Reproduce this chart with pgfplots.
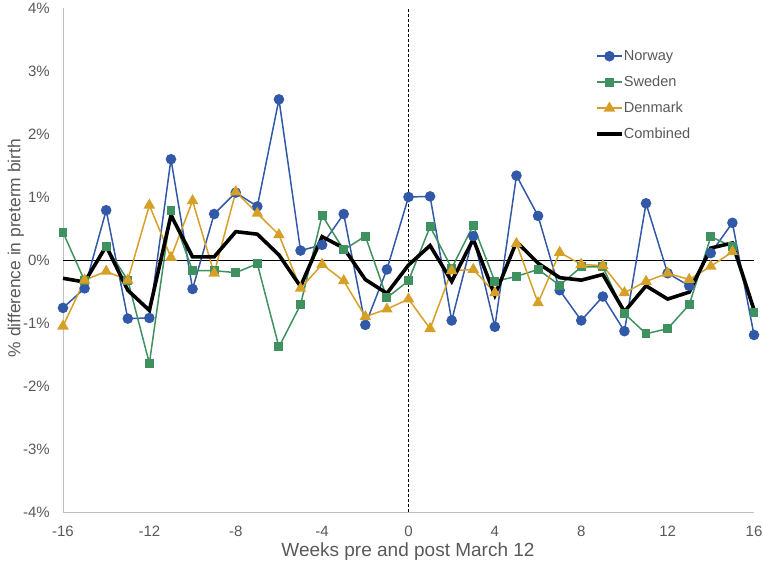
\documentclass[border=0pt]{standalone}
\usepackage{fontspec}
\setmainfont{Liberation Sans}
\usepackage{pgfplots}
\usepackage{pgfplotstable}
\pgfplotsset{compat=1.18}
\definecolor{nor}{RGB}{50,88,168}
\definecolor{swe}{RGB}{64,145,96}
\definecolor{den}{RGB}{214,160,38}
\definecolor{txt}{RGB}{89,89,89}
\definecolor{axl}{RGB}{191,191,191}
\pgfplotstableread{
x N S D C
-16 -0.76 0.44 -1.05 -0.29
-15 -0.45 -0.33 -0.32 -0.35
-14 0.79 0.21 -0.18 0.22
-13 -0.93 -0.32 -0.32 -0.48
-12 -0.92 -1.64 0.87 -0.80
-11 1.60 0.78 0.04 0.71
-10 -0.46 -0.17 0.94 0.05
-9 0.73 -0.17 -0.21 0.05
-8 1.07 -0.20 1.08 0.45
-7 0.85 -0.06 0.74 0.41
-6 2.55 -1.38 0.40 0.08
-5 0.15 -0.71 -0.45 -0.42
-4 0.24 0.71 -0.07 0.37
-3 0.73 0.16 -0.33 0.19
-2 -1.03 0.38 -0.90 -0.31
-1 -0.15 -0.60 -0.78 -0.53
0 1.00 -0.33 -0.62 -0.08
1 1.01 0.53 -1.09 0.23
2 -0.96 -0.13 -0.17 -0.34
3 0.38 0.55 -0.15 0.33
4 -1.06 -0.34 -0.52 -0.56
5 1.34 -0.26 0.26 0.29
6 0.70 -0.15 -0.68 -0.05
7 -0.48 -0.40 0.12 -0.28
8 -0.96 -0.11 -0.07 -0.32
9 -0.58 -0.11 -0.09 -0.23
10 -1.13 -0.85 -0.52 -0.82
11 0.90 -1.17 -0.34 -0.41
12 -0.21 -1.09 -0.21 -0.62
13 -0.41 -0.71 -0.31 -0.51
14 0.11 0.37 -0.10 0.19
15 0.59 0.21 0.13 0.27
16 -1.19 -0.83 nan -0.79
}\data
\begin{document}
\begin{tikzpicture}[x=1pt,y=1pt]
\useasboundingbox (0,0) rectangle (763,566);
\begin{axis}[
  at={(63pt,54pt)}, anchor=south west,
  scale only axis, width=691pt, height=504pt,
  xmin=-16, xmax=16, ymin=-4, ymax=4,
  axis x line*=bottom, axis y line*=left,
  axis line style={axl, line width=1pt},
  xtick={-16,-12,...,16},
  xticklabels={-16,-12,-8,-4,0,4,8,12,16},
  ytick={-4,...,4},
  yticklabels={-4\%,-3\%,-2\%,-1\%,0\%,1\%,2\%,3\%,4\%},
  major tick length=0pt,
  tick label style={font=\fontsize{15}{17}\selectfont, text=txt, inner sep=0pt},
  yticklabel style={anchor=east, xshift=-13pt},
  xticklabel style={anchor=north, yshift=-14pt},
  legend style={at={(0.7655,0.9226)}, anchor=north west, draw=none, fill=none,
    font=\fontsize{14.6}{16}\selectfont, text=txt, row sep=12pt,
    nodes={text height=11pt, text depth=3pt, inner sep=0pt},
    column sep=0pt},
  legend cell align=left,
  clip=false,
]
\addplot[black, line width=0.8pt, forget plot] coordinates {(-16,0) (16,0)};
\addplot[black, line width=0.8pt, dash pattern=on 3pt off 2pt, forget plot] coordinates {(0,-4) (0,4)};
\addplot[nor, line width=1.5pt, mark=*, mark size=4.5pt, mark options={solid, fill=nor, draw=nor},
  legend image code/.code={\draw[mark repeat=2,mark phase=2] plot coordinates {(0pt,0pt)(12.5pt,0pt)(25pt,0pt)};}] table[x=x,y=N] {\data};
\addlegendentry{Norway}
\addplot[swe, line width=1.5pt, mark=square*, mark size=3.7pt, mark options={solid, fill=swe, draw=swe},
  legend image code/.code={\draw[mark repeat=2,mark phase=2] plot coordinates {(0pt,0pt)(12.5pt,0pt)(25pt,0pt)};}] table[x=x,y=S] {\data};
\addlegendentry{Sweden}
\addplot[den, line width=1.5pt, mark=triangle*, mark size=5.2pt, mark options={solid, fill=den, draw=den},
  legend image code/.code={\draw[mark repeat=2,mark phase=2] plot coordinates {(0pt,0pt)(12.5pt,0pt)(25pt,0pt)};}] table[x=x,y=D] {\data};
\addlegendentry{Denmark}
\addplot[black, line width=3.6pt, no marks,
  legend image code/.code={\draw plot coordinates {(0pt,0pt)(25pt,0pt)};}] table[x=x,y=C] {\data};
\addlegendentry{Combined}
\end{axis}
\node[rotate=90, text=txt, font=\fontsize{17.4}{20}\selectfont] at (16,318) {\% difference in preterm birth};
\node[text=txt, font=\fontsize{19}{22}\selectfont] at (408,14.5) {Weeks pre and post March 12};
\end{tikzpicture}
\end{document}
